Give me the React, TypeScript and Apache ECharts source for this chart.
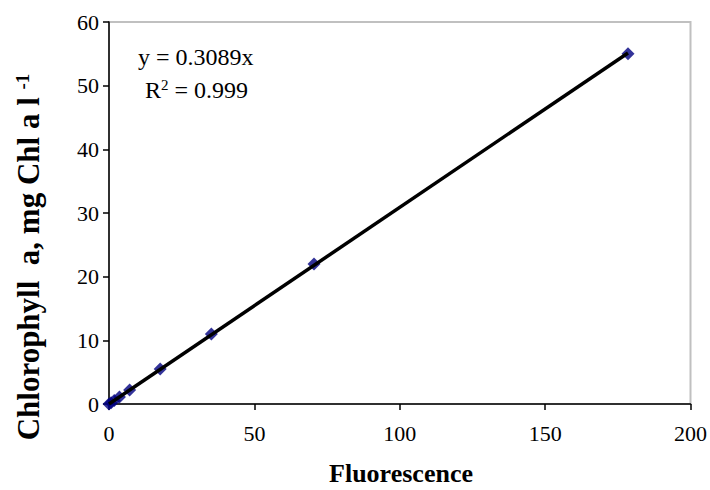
import React, { useEffect, useRef } from "react";
import * as echarts from "echarts";

// Calibration: fluorescence readings vs. chlorophyll a concentration
const fluorescence = [0, 0.7, 1.8, 3.6, 7.1, 17.6, 35.2, 70.5, 178.5];
const chlorophyll = [0, 0.2, 0.55, 1.1, 2.2, 5.5, 11, 22, 55];
const SLOPE = 0.3089;
const R2 = "0.999";
const xTicks = { min: 0, max: 200, interval: 50 };
const yTicks = { min: 0, max: 60, interval: 10 };

const FONT = "'Liberation Serif', 'Times New Roman', serif";

export default function App() {
  const ref = useRef<HTMLDivElement>(null);

  useEffect(() => {
    document.body.style.margin = "0";
    if (!ref.current) return;
    const chart = echarts.init(ref.current, null, { renderer: "svg" });
    const points = fluorescence.map((x, i) => [x, chlorophyll[i]]);
    const xMax = Math.max(...fluorescence);
    const trend = [
      [0, 0],
      [xMax, SLOPE * xMax],
    ];

    chart.setOption({
      animation: false,
      backgroundColor: "#ffffff",
      grid: {
        left: 109,
        right: 19,
        top: 22,
        bottom: 86,
        show: true,
        borderColor: "#c0c0c0",
        borderWidth: 2,
      },
      xAxis: {
        type: "value",
        min: xTicks.min,
        max: xTicks.max,
        interval: xTicks.interval,
        axisLine: { show: true, lineStyle: { color: "#000", width: 1.5 } },
        axisTick: { show: true, inside: false, length: 6, lineStyle: { color: "#000", width: 1.5 } },
        splitLine: { show: false },
        axisLabel: { color: "#000", fontFamily: FONT, fontSize: 22, margin: 18 },
      },
      yAxis: {
        type: "value",
        min: yTicks.min,
        max: yTicks.max,
        interval: yTicks.interval,
        axisLine: { show: true, lineStyle: { color: "#000", width: 1.5 } },
        axisTick: { show: true, inside: false, length: 6, lineStyle: { color: "#000", width: 1.5 } },
        splitLine: { show: false },
        axisLabel: { color: "#000", fontFamily: FONT, fontSize: 22, margin: 10 },
      },
      graphic: [
        {
          type: "text",
          x: 28,
          y: 257,
          rotation: Math.PI / 2,
          style: {
            text: "{b|Chlorophyll  a, mg Chl a l }{s|-1}",
            textAlign: "center",
            textVerticalAlign: "middle",
            rich: {
              b: { fontFamily: FONT, fontWeight: "bold", fontSize: 31, fill: "#000" },
              s: {
                fontFamily: FONT,
                fontWeight: "bold",
                fontSize: 19,
                fill: "#000",
                verticalAlign: "top",
                padding: [0, 0, 12, 0],
              },
            },
          },
        },
        {
          type: "text",
          x: 401,
          y: 473,
          style: {
            text: "Fluorescence",
            fontFamily: FONT,
            fontWeight: "bold",
            fontSize: 26,
            fill: "#000",
            textAlign: "center",
            textVerticalAlign: "middle",
          },
        },
        {
          type: "text",
          x: 138,
          y: 57,
          style: {
            text: `y = ${SLOPE}x`,
            fontFamily: FONT,
            fontSize: 24,
            fill: "#000",
            textAlign: "left",
            textVerticalAlign: "middle",
          },
        },
        {
          type: "text",
          x: 145,
          y: 90,
          style: {
            text: `{r|R}{s|2}{r| = ${R2}}`,
            textAlign: "left",
            textVerticalAlign: "middle",
            rich: {
              r: { fontFamily: FONT, fontSize: 24, fill: "#000" },
              s: {
                fontFamily: FONT,
                fontSize: 15,
                fill: "#000",
                verticalAlign: "top",
                padding: [0, 0, 10, 0],
              },
            },
          },
        },
      ],
      series: [
        {
          type: "scatter",
          data: points,
          symbol: "diamond",
          symbolSize: 13,
          itemStyle: { color: "#000080" },
          z: 2,
        },
        {
          type: "line",
          data: trend,
          showSymbol: false,
          symbol: "none",
          lineStyle: { color: "#000", width: 3.5 },
          z: 3,
        },
      ],
    });

    return () => chart.dispose();
  }, []);

  return <div ref={ref} style={{ width: 710, height: 490 }} />;
}
